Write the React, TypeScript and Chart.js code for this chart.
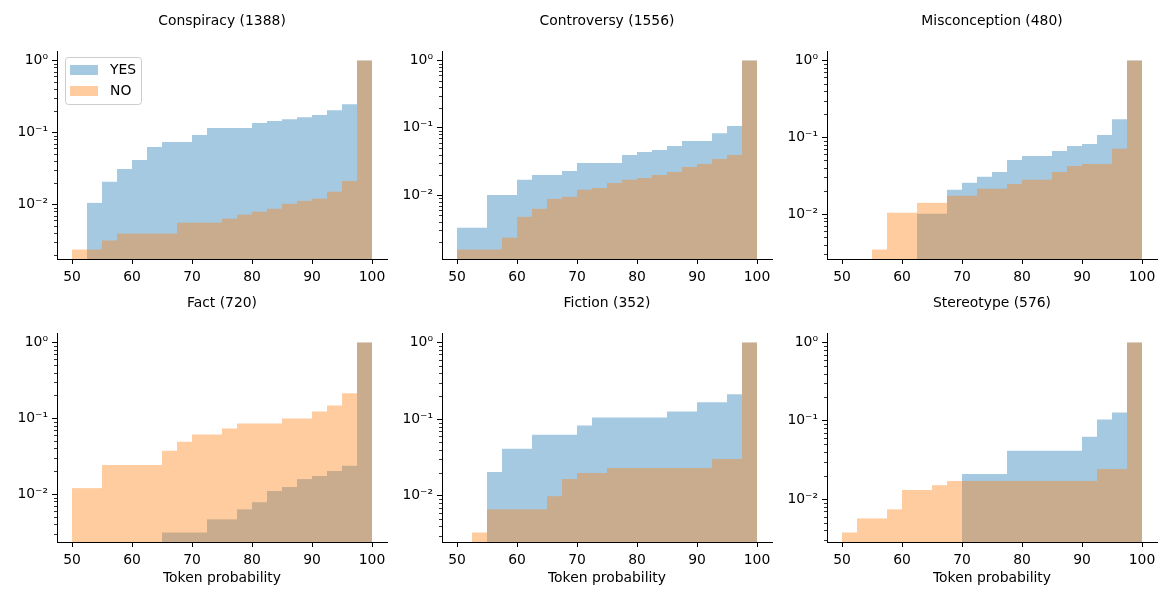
import React, { useEffect, useRef } from 'react'
import { Chart, registerables } from 'chart.js'

Chart.register(...registerables)
Chart.defaults.font.family = '"DejaVu Sans", sans-serif'
Chart.defaults.font.size = 13.9
Chart.defaults.color = '#000'

// bins of 2.5 from 50 to 100 (centres)
const BIN_CENTERS = [51.25, 53.75, 56.25, 58.75, 61.25, 63.75, 66.25, 68.75, 71.25, 73.75,
  76.25, 78.75, 81.25, 83.75, 86.25, 88.75, 91.25, 93.75, 96.25, 98.75]
const X_TICKS = [50, 60, 70, 80, 90, 100]
const Y_TICKS = [0.01, 0.1, 1]
const Y_TICK_LABELS = ['10⁻²', '10⁻¹', '10⁰']
const MINOR_STEPS = [2, 3, 4, 5, 6, 7, 8, 9]
const SERIES_LABELS = ['YES', 'NO']

const CONSPIRACY_YES = [0, 0.0105, 0.0206, 0.0311, 0.0415, 0.0627, 0.0735, 0.0735, 0.0919, 0.115,
  0.115, 0.115, 0.135, 0.144, 0.153, 0.163, 0.174, 0.204, 0.246, 1]
const CONSPIRACY_NO = [0.00236, 0.00236, 0.00315, 0.00393, 0.00393, 0.00393, 0.00393, 0.00558, 0.00558, 0.00558,
  0.00634, 0.0072, 0.00792, 0.0087, 0.0102, 0.0112, 0.012, 0.015, 0.0212, 1]

const CONTROVERSY_YES = [0.00329, 0.00329, 0.0101, 0.0101, 0.0169, 0.02, 0.02, 0.0229, 0.03, 0.03,
  0.03, 0.0394, 0.0437, 0.0468, 0.0536, 0.0635, 0.0635, 0.0834, 0.106, 1]
const CONTROVERSY_NO = [0.00156, 0.00156, 0.00156, 0.00234, 0.00478, 0.00628, 0.00883, 0.00945, 0.012, 0.0128,
  0.0152, 0.0169, 0.018, 0.02, 0.0221, 0.0262, 0.029, 0.0344, 0.0394, 1]

const MISCONCEPTION_YES = [0, 0, 0, 0, 0, 0.0101, 0.0101, 0.0207, 0.0255, 0.0305,
  0.0354, 0.0506, 0.057, 0.057, 0.0662, 0.0769, 0.0815, 0.1067, 0.172, 1]
const MISCONCEPTION_NO = [0, 0, 0.00345, 0.0104, 0.0104, 0.014, 0.014, 0.0173, 0.0173, 0.0213,
  0.0213, 0.0247, 0.0279, 0.0279, 0.0354, 0.0423, 0.0449, 0.0449, 0.071, 1]

const FACT_YES = [0, 0, 0, 0, 0, 0, 0.00312, 0.00312, 0.00312, 0.00465,
  0.00465, 0.0063, 0.00783, 0.011, 0.0124, 0.0158, 0.0174, 0.0202, 0.0236, 1]
const FACT_NO = [0.012, 0.012, 0.0243, 0.0243, 0.0243, 0.0243, 0.0373, 0.0492, 0.061, 0.061,
  0.0732, 0.0853, 0.0853, 0.0853, 0.0995, 0.0995, 0.123, 0.148, 0.214, 1]

const FICTION_YES = [0, 0, 0.0205, 0.0411, 0.0411, 0.0628, 0.0628, 0.0628, 0.0826, 0.105,
  0.105, 0.105, 0.105, 0.105, 0.126, 0.126, 0.166, 0.166, 0.211, 1]
const FICTION_NO = [0, 0.00333, 0.00668, 0.00668, 0.00668, 0.00668, 0.0099, 0.0166, 0.0199, 0.0199,
  0.0231, 0.0231, 0.0231, 0.0231, 0.0231, 0.0231, 0.0231, 0.0303, 0.0303, 1]

const STEREOTYPE_YES = [0, 0, 0, 0, 0, 0, 0, 0, 0.021, 0.021,
  0.021, 0.0415, 0.0415, 0.0415, 0.0415, 0.0415, 0.0628, 0.104, 0.128, 1]
const STEREOTYPE_NO = [0.00376, 0.00569, 0.00569, 0.00743, 0.0131, 0.0131, 0.0151, 0.0171, 0.0171, 0.0171,
  0.0171, 0.0171, 0.0171, 0.0171, 0.0171, 0.0171, 0.0171, 0.0243, 0.0243, 1]

const PANELS = [
  { title: 'Conspiracy (1388)', yes: CONSPIRACY_YES, no: CONSPIRACY_NO },
  { title: 'Controversy (1556)', yes: CONTROVERSY_YES, no: CONTROVERSY_NO },
  { title: 'Misconception (480)', yes: MISCONCEPTION_YES, no: MISCONCEPTION_NO },
  { title: 'Fact (720)', yes: FACT_YES, no: FACT_NO },
  { title: 'Fiction (352)', yes: FICTION_YES, no: FICTION_NO },
  { title: 'Stereotype (576)', yes: STEREOTYPE_YES, no: STEREOTYPE_NO },
]

const YES_COLOR = 'rgba(31,119,180,0.4)'
const NO_COLOR = 'rgba(255,127,14,0.4)'
const FONT = '13.9px "DejaVu Sans"'

// layout (px)
const COL_LEFT = [57, 442, 827]
const ROW_TOP = [51, 333]
const ROW_H = [208, 209]
const AX_W = 330
const Y_W = 55
const PAD_TOP = 45
const PAD_RIGHT = 10

// matplotlib-like autoscale on a log axis (5% margin in log space)
function logLimits(a: number[], b: number[]) {
  const vals = [...a, ...b].filter((v) => v > 0)
  const lo = Math.log10(Math.min(...vals))
  const hi = Math.log10(Math.max(...vals))
  const m = (hi - lo) * 0.05
  return { min: 10 ** (lo - m), max: 10 ** (hi + m) }
}

const panelTitle = {
  id: 'panelTitle',
  afterDraw(chart: any, _args: any, opts: any) {
    const { ctx, chartArea } = chart
    ctx.save()
    ctx.font = FONT
    ctx.fillStyle = '#000'
    ctx.textAlign = 'center'
    ctx.textBaseline = 'middle'
    ctx.fillText(opts.text, (chartArea.left + chartArea.right) / 2, chartArea.top - 29.5)
    ctx.restore()
  },
}

const minorTicks = {
  id: 'minorTicks',
  afterDraw(chart: any) {
    const { ctx, chartArea } = chart
    const y = chart.scales.y
    ctx.save()
    ctx.strokeStyle = '#000'
    ctx.lineWidth = 0.8
    const k0 = Math.floor(Math.log10(y.min))
    const k1 = Math.ceil(Math.log10(y.max))
    for (let k = k0; k <= k1; k++) {
      for (const s of MINOR_STEPS) {
        const v = s * 10 ** k
        if (v <= y.min || v >= y.max) continue
        const py = Math.round(y.getPixelForValue(v)) + 0.5
        ctx.beginPath()
        ctx.moveTo(chartArea.left - 3, py)
        ctx.lineTo(chartArea.left, py)
        ctx.stroke()
      }
    }
    ctx.restore()
  },
}

const insideLegend = {
  id: 'insideLegend',
  afterDatasetsDraw(chart: any, _args: any, opts: any) {
    if (!opts.show) return
    const { ctx, chartArea } = chart
    const x = Math.round(chartArea.left + 8) + 0.5
    const y = Math.round(chartArea.top + 6) + 0.5
    ctx.save()
    ctx.beginPath()
    ctx.roundRect(x, y, 76, 47, 3)
    ctx.fillStyle = 'rgba(255,255,255,0.8)'
    ctx.fill()
    ctx.strokeStyle = '#cccccc'
    ctx.lineWidth = 1
    ctx.stroke()
    ctx.font = FONT
    ctx.textBaseline = 'middle'
    SERIES_LABELS.forEach((label, i) => {
      const ds = chart.data.datasets.find((d: any) => d.label === label)
      ctx.fillStyle = ds.backgroundColor
      ctx.fillRect(x + 4.5, y + 7.5 + i * 21, 28, 10)
      ctx.fillStyle = '#000'
      ctx.fillText(label, x + 44.5, y + 13 + i * 20.6)
    })
    ctx.restore()
  },
}

interface PanelProps {
  title: string
  yes: number[]
  no: number[]
  left: number
  top: number
  axH: number
  bottomRow: boolean
  legend: boolean
}

function Panel({ title, yes, no, left, top, axH, bottomRow, legend }: PanelProps) {
  const canvasRef = useRef<HTMLCanvasElement>(null)
  const xH = bottomRow ? 50 : 26

  useEffect(() => {
    if (!canvasRef.current) return
    const { min, max } = logLimits(yes, no)
    const toPoints = (vals: number[]) => BIN_CENTERS.map((x, i) => ({ x, y: vals[i] > 0 ? vals[i] : null }))

    const chart = new Chart(canvasRef.current, {
      type: 'bar',
      data: {
        datasets: [
          // NO first so it is painted last (on top), like the matplotlib overlay
          { label: 'NO', data: toPoints(no), backgroundColor: NO_COLOR },
          { label: 'YES', data: toPoints(yes), backgroundColor: YES_COLOR },
        ],
      },
      options: {
        animation: false,
        responsive: true,
        maintainAspectRatio: false,
        layout: { padding: { top: PAD_TOP, right: PAD_RIGHT, left: 0, bottom: 0 } },
        datasets: {
          bar: { grouped: false, barPercentage: 1, categoryPercentage: 1, borderWidth: 0, inflateAmount: 0 },
        },
        plugins: {
          legend: { display: false },
          title: { display: false },
          tooltip: { enabled: false },
          panelTitle: { text: title },
          insideLegend: { show: legend },
        } as any,
        scales: {
          x: {
            type: 'linear',
            min: 47.5,
            max: 102.5,
            bounds: 'data',
            offset: false,
            afterBuildTicks: (s: any) => { s.ticks = X_TICKS.map((value) => ({ value })) },
            afterFit: (s: any) => { s.height = xH },
            ticks: { padding: 5, maxRotation: 0, autoSkip: false, color: '#000' },
            grid: { offset: false, drawOnChartArea: false, drawTicks: true, tickLength: 5, tickColor: '#000', tickWidth: 1 },
            border: { display: true, color: '#000', width: 1 },
            title: {
              display: bottomRow,
              text: 'Token probability',
              color: '#000',
              padding: { top: 0, bottom: 5 },
            },
          },
          y: {
            type: 'logarithmic',
            min,
            max,
            bounds: 'data',
            afterBuildTicks: (s: any) => {
              s.ticks = Y_TICKS.filter((v) => v >= min && v <= max).map((value) => ({ value, major: true }))
            },
            afterFit: (s: any) => { s.width = Y_W },
            ticks: {
              padding: 4,
              autoSkip: false,
              color: '#000',
              callback: (v: any) => {
                const i = Y_TICKS.findIndex((t) => Math.abs(t - Number(v)) / t < 1e-6)
                return i < 0 ? '' : Y_TICK_LABELS[i]
              },
            },
            grid: { drawOnChartArea: false, drawTicks: true, tickLength: 5, tickColor: '#000', tickWidth: 1 },
            border: { display: true, color: '#000', width: 1 },
          },
        },
      },
      plugins: [panelTitle, minorTicks, insideLegend],
    } as any)

    return () => chart.destroy()
  }, [title, yes, no, legend, bottomRow, xH])

  return (
    <div
      style={{
        position: 'absolute',
        left: left - Y_W,
        top: top - PAD_TOP,
        width: Y_W + AX_W + PAD_RIGHT,
        height: PAD_TOP + axH + xH,
      }}
    >
      <canvas ref={canvasRef} />
    </div>
  )
}

export default function App() {
  return (
    <div style={{ position: 'absolute', left: 0, top: 0, width: 1170, height: 600, background: '#fff' }}>
      {PANELS.map((p, i) => {
        const row = Math.floor(i / 3)
        const col = i % 3
        return (
          <Panel
            key={p.title}
            title={p.title}
            yes={p.yes}
            no={p.no}
            left={COL_LEFT[col]}
            top={ROW_TOP[row]}
            axH={ROW_H[row]}
            bottomRow={row === 1}
            legend={i === 0}
          />
        )
      })}
    </div>
  )
}
